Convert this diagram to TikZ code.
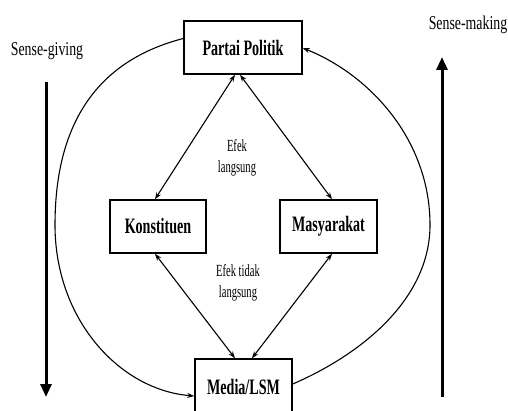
\documentclass[tikz,border=0pt]{standalone}
\usepackage{fontspec}
\setmainfont{Liberation Serif}
\newfontfamily\kotakfont{Liberation Serif}[FakeStretch=0.64]
\newfontfamily\arahfont{Liberation Serif}[FakeStretch=0.71]
\newfontfamily\efekfont{Liberation Serif}[FakeStretch=0.62]
\usetikzlibrary{arrows.meta}

\begin{document}
\begin{tikzpicture}[x=1pt, y=-1pt,
    kotak/.style={draw, line width=1.5pt, minimum height=53pt, inner sep=0pt,
        font=\kotakfont\fontsize{22}{24}\selectfont\bfseries},
    panah/.style={line width=1.1pt, {Stealth[length=7pt,width=5pt]}-{Stealth[length=7pt,width=5pt]}},
    lengkung/.style={line width=1.1pt, -{Stealth[length=7pt,width=5pt]}},
    arus/.style={line width=3pt, -{Triangle[length=13pt,width=11pt]}},
    ket/.style={align=center, font=\efekfont\fontsize{17}{21}\selectfont},
    arah/.style={font=\arahfont\fontsize{19.5}{22}\selectfont}]
    \useasboundingbox (0,0) rectangle (508,411);
    \clip (0,0) rectangle (508,411);
    \node[kotak, minimum width=118pt] (pp) at (243,47.5) {Partai Politik};
    \node[kotak, minimum width=96pt] (ks) at (158,226.5) {Konstituen};
    \node[kotak, minimum width=97pt] (ms) at (328.5,226.5) {Masyarakat};
    \node[kotak, minimum width=97pt, minimum height=56pt] (md) at (243.5,387) {Media/LSM};
    \draw[panah] ([xshift=-8pt]pp.south) -- ([xshift=-3pt]ks.north);
    \draw[panah] ([xshift=-3pt]pp.south) -- ([xshift=3.5pt]ms.north);
    \draw[panah] ([xshift=-3pt]ks.south) -- ([xshift=-8.5pt]md.north);
    \draw[panah] ([xshift=3.5pt]ms.south) -- ([xshift=8.5pt]md.north);
    \node[ket] (el) at (237,157.5) {Efek\\langsung};
    \node[ket] (etl) at (238,282.5) {Efek tidak\\langsung};
    % lingkaran luar
    \coordinate (kiri) at (55,225);
    \coordinate (kanan) at (430,225);
    \draw[lengkung] ([yshift=9pt]pp.west) .. controls (100,60) and (55,120) .. (kiri)
        .. controls (55,320) and (120,390) .. ([yshift=-9pt]md.west);
    \draw[lengkung] ([yshift=3pt]md.east) .. controls (360,355) and (430,300) .. (kanan)
        .. controls (430,140) and (370,75) .. ([yshift=-0.5pt]pp.east);
    % arah
    \node[arah] (sg) at (47,51) {Sense-giving};
    \node[arah] (sm) at (468,25) {Sense-making};
    \coordinate (sg1) at (46,82);
    \coordinate (sg2) at (46,397);
    \coordinate (sm1) at (442,397);
    \coordinate (sm2) at (442,57);
    \draw[arus] (sg1) -- (sg2);
    \draw[arus] (sm1) -- (sm2);
\end{tikzpicture}
\end{document}
